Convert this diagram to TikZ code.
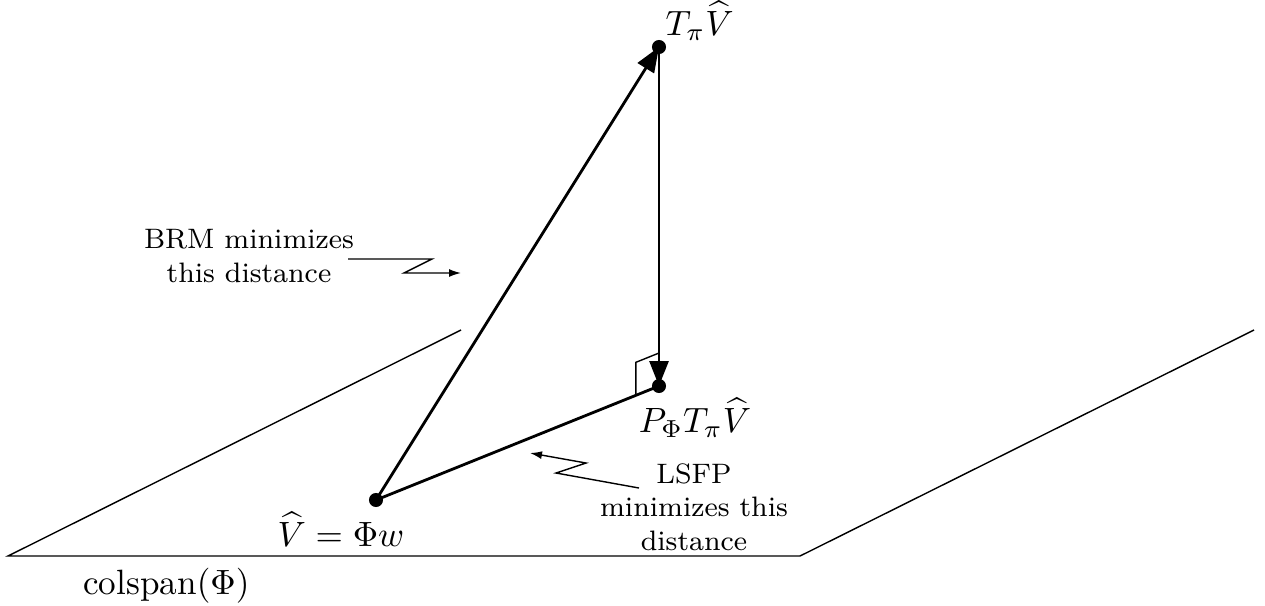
\documentclass[tikz,border=0pt]{standalone}
\usepackage{amsmath,amssymb}
\usetikzlibrary{arrows.meta, calc}
\tikzset{
  vect/.style={thick, -{Triangle[length=2.5mm, width=1.9mm]}},
  plane/.style={thin},
  pointer/.style={thin, -{Latex[length=1.2mm, width=0.8mm]}},
  note/.style={font=\footnotesize, align=center}
}

\begin{document}
\begin{tikzpicture}
        \useasboundingbox (0,0) rectangle (12.65,6.05);
        \coordinate (a0) at (0.08,0.49);
        \coordinate (a1) at (8.00,0.49);
        \coordinate (a2) at (4.61,2.75);
        \coordinate (a3) at (12.54,2.75);
        \coordinate (V) at (3.76,1.05);
        \coordinate (T) at (6.59,5.58);
        \coordinate (P) at (6.59,2.19);
        \draw[plane] (a2) -- (a0) -- node[pos=0.2, below] (span) {colspan$(\Phi)$} (a1) -- (a3);
        \draw[vect] (V) -- (T);
        \draw[vect] (T) -- (P);
        \draw[thick] (V) -- (P);
        \draw[thin] ($(P)!0.25cm!(V)$) -- ++(0,0.33) -- ($(P)+(0,0.33)$);
        \fill (V) circle (2pt) (T) circle (2pt) (P) circle (2pt);
        \node[anchor=base west, inner sep=0pt] (Tlab) at ($(T)+(0.06,0.12)$) {$T_\pi \widehat{V}$};
        \node[below, xshift=3.6mm] (Plab) at (P) {$P_\Phi T_\pi \widehat{V}$};
        \node[below, xshift=-3.5mm] (Vlab) at (V) {$\widehat{V} = \Phi w$};
        \node[note] (brm) at (2.49,3.49) {BRM minimizes\\this distance};
        \node[note] (lsfp) at (6.94,0.98) {LSFP\\minimizes this\\distance};
        \coordinate (brmfrom) at (3.48,3.46);
        \coordinate (brmto) at (4.61,3.32);
        \coordinate (lsfpfrom) at (6.39,1.17);
        \coordinate (lsfpto) at (5.30,1.52);
        \draw[pointer] (brmfrom) -- ++(0.84,0) -- ++(-0.28,-0.14) -- (brmto);
        \draw[pointer] (lsfpfrom) -- ++(-0.83,0.15) -- ++(0.30,0.10) -- (lsfpto);
\end{tikzpicture}
\end{document}
